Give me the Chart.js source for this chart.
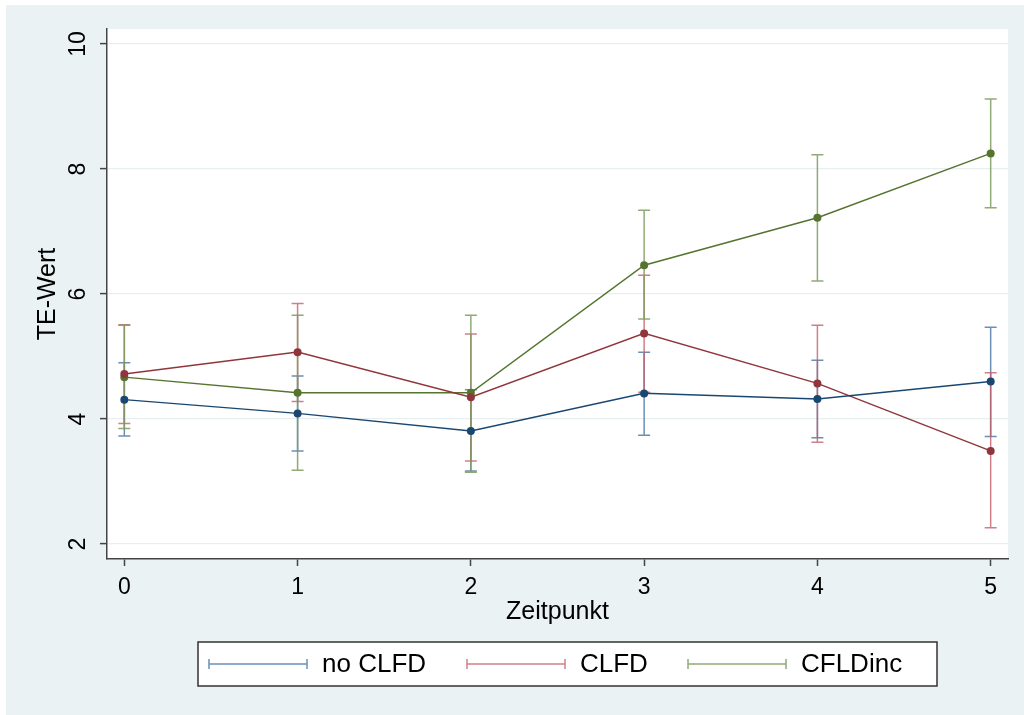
<!DOCTYPE html>
<html>
<head>
<meta charset="utf-8">
<title>TE-Wert nach Zeitpunkt</title>
<script src="https://cdn.jsdelivr.net/npm/chart.js@4"></script>
<style>
  html, body { margin: 0; padding: 0; background: #fff; }
  #wrap { position: absolute; left: 6px; top: 5px; width: 1018px; height: 710px; }
</style>
</head>
<body>
<div id="wrap"><canvas id="myChart"></canvas></div>
<script>
const zeitpunkte = [0, 1, 2, 3, 4, 5];
const yTicks = [2, 4, 6, 8, 10];

const noClfdMean = [4.31, 4.09, 3.81, 4.41, 4.32, 4.60];
const noClfdLow  = [3.73, 3.49, 3.17, 3.74, 3.70, 3.72];
const noClfdHigh = [4.90, 4.69, 4.47, 5.07, 4.94, 5.47];

const clfdMean = [4.72, 5.07, 4.35, 5.37, 4.57, 3.49];
const clfdLow  = [3.93, 4.28, 3.33, 4.43, 3.63, 2.26];
const clfdHigh = [5.51, 5.85, 5.36, 6.30, 5.50, 4.74];

const cfldIncMean = [4.67, 4.42, 4.42, 6.46, 7.22, 8.25];
const cfldIncLow  = [3.85, 3.18, 3.15, 5.60, 6.21, 7.38];
const cfldIncHigh = [5.50, 5.66, 5.66, 7.34, 8.23, 9.12];

const FONT = "'Liberation Sans', Arial, Helvetica, sans-serif";

// stata-like colours: line/marker and the lighter cap colour
const series = [
  { label: 'no CLFD', mean: noClfdMean, low: noClfdLow, high: noClfdHigh, color: '#1a476f', ci: 'rgba(70,115,160,0.8)' },
  { label: 'CLFD',    mean: clfdMean,   low: clfdLow,   high: clfdHigh,   color: '#90353b', ci: 'rgba(195,95,105,0.8)' },
  { label: 'CFLDinc', mean: cfldIncMean, low: cfldIncLow, high: cfldIncHigh, color: '#55752f', ci: 'rgba(125,155,95,0.85)' }
];

const toPoints = arr => zeitpunkte.map((x, i) => ({ x: x, y: arr[i] }));

// background, white plot region
const backdrop = {
  id: 'backdrop',
  beforeDraw(chart) {
    const { ctx, chartArea: a } = chart;
    ctx.save();
    ctx.fillStyle = '#eaf2f3';
    ctx.fillRect(0, 0, chart.width, chart.height);
    ctx.fillStyle = '#ffffff';
    ctx.fillRect(a.left, a.top, a.right - a.left, a.bottom - a.top);
    ctx.restore();
  }
};

// confidence interval caps, behind the connected lines
const errorBars = {
  id: 'errorBars',
  beforeDatasetsDraw(chart) {
    const { ctx, scales: { x, y } } = chart;
    ctx.save();
    ctx.lineWidth = 1.5;
    series.forEach(s => {
      ctx.strokeStyle = s.ci;
      zeitpunkte.forEach((t, i) => {
        const px = x.getPixelForValue(t);
        const lo = y.getPixelForValue(s.low[i]);
        const hi = y.getPixelForValue(s.high[i]);
        ctx.beginPath();
        ctx.moveTo(px, lo); ctx.lineTo(px, hi);
        ctx.moveTo(px - 6, lo); ctx.lineTo(px + 6, lo);
        ctx.moveTo(px - 6, hi); ctx.lineTo(px + 6, hi);
        ctx.stroke();
      });
    });
    ctx.restore();
  }
};

// rotated y tick labels and the boxed legend
const extras = {
  id: 'extras',
  afterDraw(chart) {
    const { ctx, scales: { y } } = chart;
    ctx.save();
    ctx.fillStyle = '#000';
    ctx.font = '23px ' + FONT;
    ctx.textAlign = 'center';
    ctx.textBaseline = 'middle';
    y.ticks.forEach(t => {
      ctx.save();
      ctx.translate(72, y.getPixelForValue(t.value));
      ctx.rotate(-Math.PI / 2);
      ctx.fillText(String(t.value), 0, 1);
      ctx.restore();
    });

    // legend box
    ctx.fillStyle = '#fff';
    ctx.fillRect(192, 637, 739, 44);
    ctx.strokeStyle = '#333';
    ctx.lineWidth = 1.5;
    ctx.strokeRect(192, 637, 739, 44);

    const icons = [203, 461, 682];
    const ly = 659;
    ctx.font = '26px ' + FONT;
    ctx.textAlign = 'left';
    series.forEach((s, i) => {
      const x0 = icons[i], x1 = x0 + 98;
      ctx.strokeStyle = s.ci;
      ctx.lineWidth = 1.5;
      ctx.beginPath();
      ctx.moveTo(x0, ly); ctx.lineTo(x1, ly);
      ctx.moveTo(x0, ly - 5); ctx.lineTo(x0, ly + 5);
      ctx.moveTo(x1, ly - 5); ctx.lineTo(x1, ly + 5);
      ctx.stroke();
      ctx.fillStyle = '#000';
      ctx.fillText(s.label, x1 + 15, ly + 1);
    });
    ctx.restore();
  }
};

const ctx = document.getElementById('myChart').getContext('2d');

const myChart = new Chart(ctx, {
  type: 'line',
  data: {
    datasets: series.map(s => ({
      label: s.label,
      data: toPoints(s.mean),
      borderColor: s.color,
      backgroundColor: s.color,
      pointBackgroundColor: s.color,
      pointBorderColor: s.color,
      borderWidth: 1.5,
      pointRadius: 4,
      pointBorderWidth: 0,
      tension: 0,
      fill: false
    }))
  },
  options: {
    responsive: true,
    maintainAspectRatio: false,
    animation: false,
    layout: { padding: { left: 0, top: 24, right: 16, bottom: 0 } },
    plugins: {
      legend: { display: false },
      tooltip: { enabled: false }
    },
    scales: {
      x: {
        type: 'linear',
        position: 'bottom',
        min: -0.1,
        max: 5.1,
        afterBuildTicks: scale => { scale.ticks = zeitpunkte.map(v => ({ value: v })); },
        afterFit: scale => { scale.height = 156; },
        grid: { drawOnChartArea: false, drawTicks: true, tickLength: 7, tickColor: '#444', tickWidth: 1.5 },
        border: { display: true, color: '#444', width: 1.5 },
        ticks: { color: '#000', font: { family: FONT, size: 23 }, padding: 8, maxRotation: 0, autoSkip: false },
        title: { display: true, text: 'Zeitpunkt', color: '#000', font: { family: FONT, size: 25 }, padding: { top: 4, bottom: 88 } }
      },
      y: {
        type: 'linear',
        min: 1.76,
        max: 10.24,
        afterBuildTicks: scale => { scale.ticks = yTicks.map(v => ({ value: v })); },
        afterFit: scale => { scale.width = 101; },
        grid: { color: '#e8eff1', lineWidth: 1.2, drawTicks: true, tickLength: 7, tickColor: '#444', tickWidth: 1.5 },
        border: { display: true, color: '#444', width: 1.5 },
        ticks: { color: 'rgba(0,0,0,0)', font: { family: FONT, size: 23 }, padding: 4 },
        title: { display: true, text: 'TE-Wert', color: '#000', font: { family: FONT, size: 25 }, padding: { top: 27, bottom: 0 } }
      }
    }
  },
  plugins: [backdrop, errorBars, extras]
});
</script>
</body>
</html>
